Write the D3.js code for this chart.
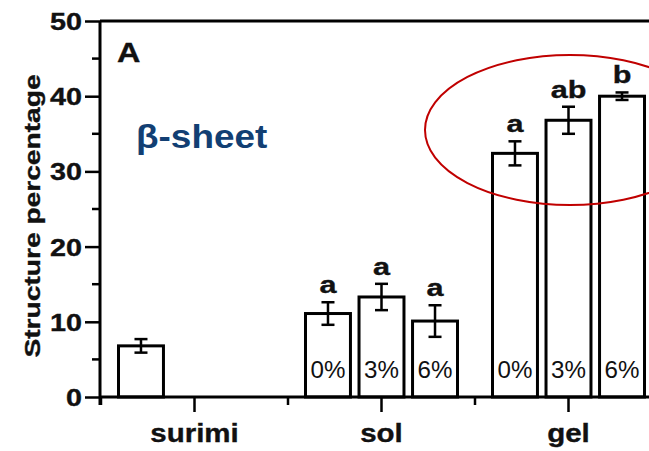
<!DOCTYPE html>
<html>
<head>
<meta charset="utf-8">
<script src="https://cdn.jsdelivr.net/npm/d3@7/dist/d3.min.js"></script>
<style>
  html, body { margin: 0; padding: 0; background: #fff; }
  svg { display: block; }
  text { font-family: Arial, "Liberation Sans", Helvetica, sans-serif; }
</style>
</head>
<body>
<svg id="chart" width="649" height="451"></svg>
<script>
// ---- data ----
const groups = ["surimi", "sol", "gel"];
const levels = ["0%", "3%", "6%"];
const surimiValue = [6.8];
const surimiErr = [0.9];
const solValues = [11.1, 13.3, 10.1];
const solErr = [1.5, 1.75, 2.1];
const solLetters = ["a", "a", "a"];
const gelValues = [32.4, 36.8, 40.0];
const gelErr = [1.6, 1.8, 0.5];
const gelLetters = ["a", "ab", "b"];
const yTicks = [0, 10, 20, 30, 40, 50];
const yMinorTicks = [5, 15, 25, 35, 45];
const yLabel = "Structure percentage";
const panelLabel = "A";
const structureLabel = "β-sheet";

// build rows
const rows = [];
surimiValue.forEach((v, i) => rows.push({group: "surimi", level: levels[i], value: v, err: surimiErr[i], letter: null, showPct: false}));
solValues.forEach((v, i) => rows.push({group: "sol", level: levels[i], value: v, err: solErr[i], letter: solLetters[i], showPct: true}));
gelValues.forEach((v, i) => rows.push({group: "gel", level: levels[i], value: v, err: gelErr[i], letter: gelLetters[i], showPct: true}));

const svg = d3.select("#chart");

const x0 = d3.scaleBand().domain(groups).range([101, 662]).padding(0);
const x1 = d3.scaleBand().domain(levels).range([0, x0.bandwidth()])
  .paddingInner(0.16).paddingOuter(0.327);
const y = d3.scaleLinear().domain([0, 50]).range([397, 21]);

const axisW = 3;
const ink = "#111";
const boldStroke = 0.35;

// bars
const bx = d => x0(d.group) + x1(d.level);
svg.append("g").selectAll("rect").data(rows).join("rect")
  .attr("x", d => bx(d))
  .attr("y", d => y(d.value))
  .attr("width", x1.bandwidth())
  .attr("height", d => y(0) - y(d.value))
  .attr("fill", "#fff")
  .attr("stroke", "#000")
  .attr("stroke-width", 3);

// error bars
const eb = svg.append("g").attr("stroke", "#000").attr("stroke-width", 2.5);
rows.forEach(d => {
  const cx = bx(d) + x1.bandwidth() / 2;
  eb.append("line").attr("x1", cx).attr("x2", cx).attr("y1", y(d.value + d.err)).attr("y2", y(d.value - d.err));
  [d.value + d.err, d.value - d.err].forEach(v => {
    eb.append("line").attr("x1", cx - 6.5).attr("x2", cx + 6.5).attr("y1", y(v)).attr("y2", y(v));
  });
});

// significance letters
svg.append("g").selectAll("text").data(rows.filter(d => d.letter)).join("text")
  .attr("transform", d => `translate(${bx(d) + x1.bandwidth() / 2},${y(d.value + d.err) - 9}) scale(1.33,1)`)
  .attr("text-anchor", "middle")
  .attr("font-weight", "bold")
  .attr("font-size", 23)
  .attr("fill", ink).attr("stroke", ink).attr("stroke-width", boldStroke)
  .text(d => d.letter);

// percent labels in bars
svg.append("g").selectAll("text").data(rows.filter(d => d.showPct)).join("text")
  .attr("transform", d => `translate(${bx(d) + x1.bandwidth() / 2},${y(0) - 19}) scale(1.05,1)`)
  .attr("text-anchor", "middle")
  .attr("font-size", 23)
  .attr("fill", ink)
  .text(d => d.level);

// y axis
const yAxis = svg.append("g").attr("transform", "translate(100,0)")
  .call(d3.axisLeft(y).tickValues(yTicks).tickSize(15).tickFormat(d3.format("d")));
yAxis.select(".domain").attr("stroke-width", axisW).attr("d", `M0,${y(50)}V${y(0) + 8}`);
yAxis.selectAll(".tick line").attr("stroke-width", 2.5);
yAxis.selectAll(".tick text")
  .attr("x", null).attr("dy", null)
  .attr("font-size", 23).attr("font-weight", "bold")
  .attr("fill", ink).attr("stroke", ink).attr("stroke-width", boldStroke)
  .attr("text-anchor", "end")
  .attr("font-family", "Arial, 'Liberation Sans', sans-serif")
  .attr("transform", "translate(-18,8.5) scale(1.25,1)");
// minor y ticks
svg.append("g").selectAll("line").data(yMinorTicks).join("line")
  .attr("x1", 92).attr("x2", 100).attr("y1", d => y(d)).attr("y2", d => y(d))
  .attr("stroke", "#000").attr("stroke-width", 2.5);

// top frame line
svg.append("line").attr("x1", 100).attr("x2", 662).attr("y1", y(50)).attr("y2", y(50))
  .attr("stroke", "#000").attr("stroke-width", axisW);

// x axis
const xAxis = svg.append("g").attr("transform", `translate(0,${y(0)})`)
  .call(d3.axisBottom(x0).tickSize(15).tickFormat(""));
xAxis.select(".domain").attr("stroke-width", axisW).attr("d", `M100,0H662`);
xAxis.selectAll(".tick line").attr("stroke-width", 2.5);
// minor x ticks at group boundaries
svg.append("g").selectAll("line").data(groups).join("line")
  .attr("x1", d => x0(d)).attr("x2", d => x0(d))
  .attr("y1", y(0)).attr("y2", y(0) + 8)
  .attr("stroke", "#000").attr("stroke-width", 2.5);
// x labels
svg.append("g").selectAll("text").data(groups).join("text")
  .attr("transform", d => `translate(${x0(d) + x0.bandwidth() / 2},442) scale(1.18,1)`)
  .attr("text-anchor", "middle")
  .attr("font-weight", "bold")
  .attr("font-size", 25)
  .attr("fill", ink).attr("stroke", ink).attr("stroke-width", boldStroke)
  .text(d => d);

// y label
svg.append("text")
  .attr("transform", "translate(40,216) rotate(-90) scale(1.28,1)")
  .attr("text-anchor", "middle")
  .attr("font-weight", "bold")
  .attr("font-size", 22)
  .attr("fill", ink).attr("stroke", ink).attr("stroke-width", boldStroke)
  .text(yLabel);

// panel label
svg.append("text")
  .attr("transform", "translate(117,62) scale(1.2,1)")
  .attr("font-weight", "bold")
  .attr("font-size", 27)
  .attr("fill", ink).attr("stroke", ink).attr("stroke-width", boldStroke)
  .text(panelLabel);

// structure label
svg.append("text")
  .attr("transform", "translate(136,148) scale(1.12,1)")
  .attr("font-weight", "bold")
  .attr("font-size", 33)
  .attr("fill", "#123f73")
  .text(structureLabel);

// highlight ellipse
svg.append("ellipse")
  .attr("cx", 570).attr("cy", 130).attr("rx", 145).attr("ry", 75)
  .attr("fill", "none").attr("stroke", "#c00000").attr("stroke-width", 2);
</script>
</body>
</html>
